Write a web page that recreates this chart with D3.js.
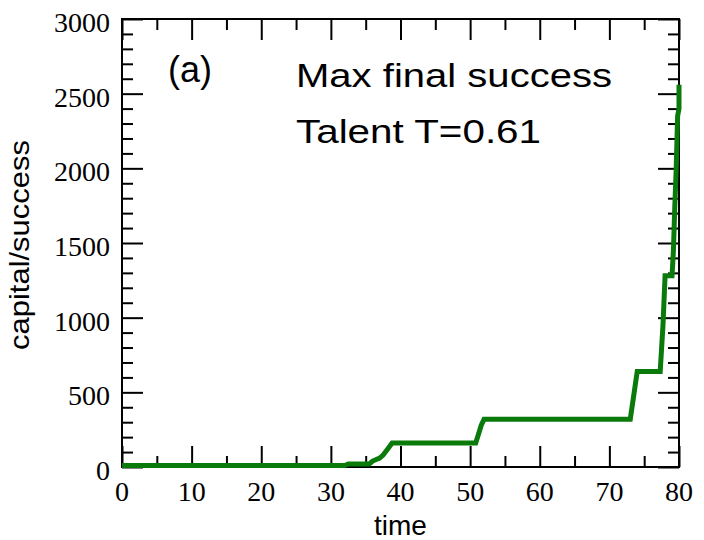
<!DOCTYPE html>
<html>
<head>
<meta charset="utf-8">
<script src="https://cdn.jsdelivr.net/npm/d3@7"></script>
<style>
  body { margin: 0; background: #fff; }
  .chart text { fill: #000; }
</style>
</head>
<body>
<div class="chart"></div>
<script>
// success of the most successful individual
var timeVals    = [0, 32, 32.5, 35.5, 36, 37, 37.5, 38, 38.8, 50.8, 51.2, 51.6, 52, 73, 73.5, 74, 77.3, 77.7, 78, 79, 79.2, 79.4, 79.6, 79.8, 80, 80]
var capitalVals = [10, 10, 20, 20, 40, 60, 80, 110, 160, 160, 220, 280, 320, 320, 480, 640, 640, 950, 1280, 1280, 1450, 1750, 2000, 2350, 2400, 2560]

var xMajor = [0, 10, 20, 30, 40, 50, 60, 70, 80]
var yMajor = [0, 500, 1000, 1500, 2000, 2500, 3000]
var panelLabel = "(a)"
var titleLines = ["Max final success", "Talent T=0.61"]

var data = timeVals.map(function (t, i) { return {time: t, value: capitalVals[i]} })

var margin = {top: 19, right: 25, bottom: 73, left: 122},
  width = 704 - margin.left - margin.right,
  height = 540 - margin.top - margin.bottom;

var svg = d3.select(".chart").append("svg")
  .attr("width", width + margin.left + margin.right)
  .attr("height", height + margin.top + margin.bottom);
var g = svg.append("g").attr("transform", "translate(" + margin.left + "," + margin.top + ")");

var x = d3.scaleLinear().domain([0, 80]).range([0, width]),
  y = d3.scaleLinear().domain([0, 3000]).range([height, 0]);

var xMinor = d3.range(0, 81, 5).filter(function (v) { return v % 10 !== 0 })
var yMinor = d3.range(0, 3001, 100).filter(function (v) { return v % 500 !== 0 })

// inward ticks on all four sides, like the grace plot
function ticks(axis, vals, len) {
  return axis.tickValues(vals).tickSize(len).tickFormat("")
}

g.append("g").attr("transform", "translate(0," + height + ")")
  .call(ticks(d3.axisTop(x), xMajor, 21))
g.append("g").attr("transform", "translate(0," + height + ")")
  .call(ticks(d3.axisTop(x), xMinor, 11))
g.append("g").call(ticks(d3.axisBottom(x), xMajor, 21))
g.append("g").call(ticks(d3.axisBottom(x), xMinor, 11))
g.append("g").call(ticks(d3.axisRight(y), yMajor, 21))
g.append("g").call(ticks(d3.axisRight(y), yMinor, 11))
g.append("g").attr("transform", "translate(" + width + ",0)")
  .call(ticks(d3.axisLeft(y), yMajor, 21))
g.append("g").attr("transform", "translate(" + width + ",0)")
  .call(ticks(d3.axisLeft(y), yMinor, 11))

g.selectAll(".domain").remove()
g.selectAll(".tick line").attr("stroke", "#000").attr("stroke-width", 2)

// frame
g.append("rect")
  .attr("width", width)
  .attr("height", height)
  .attr("fill", "none")
  .attr("stroke", "#000")
  .attr("stroke-width", 2)

// tick labels
g.selectAll(".xlab")
  .data(xMajor)
  .enter().append("text")
    .attr("x", function (d) { return x(d) })
    .attr("y", height + 34)
    .attr("text-anchor", "middle")
    .style("font", "28px 'Liberation Serif', serif")
    .text(function (d) { return d })

g.selectAll(".ylab")
  .data(yMajor)
  .enter().append("text")
    .attr("x", -12)
    .attr("y", function (d) { return y(d) + 13 })
    .attr("text-anchor", "end")
    .style("font", "28px 'Liberation Serif', serif")
    .text(function (d) { return d })

// axis titles
g.append("text")
  .attr("x", width / 2)
  .attr("y", height + 68)
  .attr("text-anchor", "middle")
  .style("font", "28px 'Liberation Sans', Arial, sans-serif")
  .text("time")

g.append("text")
  .attr("transform", "translate(" + (29 - margin.left) + "," + (245 - margin.top) + ") rotate(-90)")
  .attr("text-anchor", "middle")
  .attr("textLength", 210)
  .attr("lengthAdjust", "spacingAndGlyphs")
  .style("font", "28px 'Liberation Sans', Arial, sans-serif")
  .text("capital/success")

// annotations
g.append("text")
  .attr("x", 168 - margin.left)
  .attr("y", 82 - margin.top)
  .style("font", "36px 'Liberation Sans', Arial, sans-serif")
  .text(panelLabel)

g.selectAll(".note")
  .data(titleLines)
  .enter().append("text")
    .attr("x", 296 - margin.left)
    .attr("y", function (d, i) { return (i ? 143 : 87) - margin.top })
    .attr("textLength", function (d, i) { return i ? 245 : 316 })
    .attr("lengthAdjust", "spacingAndGlyphs")
    .style("font", "33px 'Liberation Sans', Arial, sans-serif")
    .text(function (d) { return d })

var line = d3.line()
  .x(function (d) { return x(d.time) })
  .y(function (d) { return y(d.value) })

g.append("path")
  .datum(data)
  .attr("d", line)
  .attr("fill", "none")
  .attr("stroke", "#0a7a0a")
  .attr("stroke-width", 5)
  .attr("stroke-linejoin", "miter")
</script>
</body>
</html>
